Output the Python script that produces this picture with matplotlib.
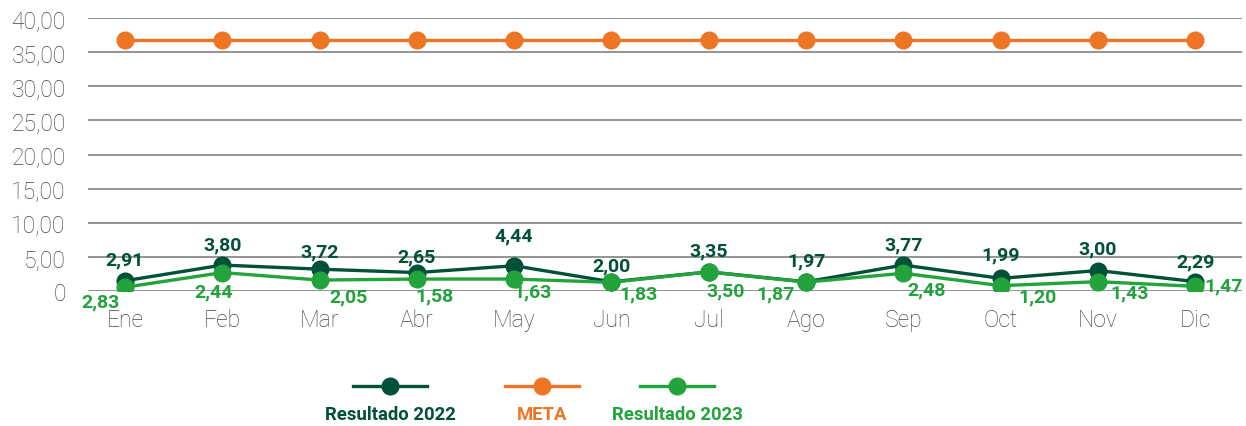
import matplotlib.pyplot as plt
from matplotlib.lines import Line2D

plt.rcParams['font.family'] = ['Roboto', 'DejaVu Sans']

months = ['Ene', 'Feb', 'Mar', 'Abr', 'May', 'Jun', 'Jul', 'Ago', 'Sep', 'Oct', 'Nov', 'Dic']
res_2022 = [1.5, 3.8, 3.2, 2.7, 3.7, 1.35, 2.8, 1.35, 3.8, 1.85, 3.0, 1.37]
res_2023 = [0.55, 2.7, 1.6, 1.75, 1.75, 1.27, 2.8, 1.3, 2.6, 0.78, 1.37, 0.68]
meta = [36.75] * 12
labels_2022 = ['2,91', '3,80', '3,72', '2,65', '4,44', '2,00', '3,35', '1,97', '3,77', '1,99', '3,00', '2,29']
labels_2023 = ['2,83', '2,44', '2,05', '1,58', '1,63', '1,83', '3,50', '1,87', '2,48', '1,20', '1,43', '1,47']
yticks = [0, 5, 10, 15, 20, 25, 30, 35, 40]
ytick_labels = ['0', '5,00', '10,00', '15,00', '20,00', '25,00', '30,00', '35,00', '40,00']

# label offsets in pixels (dx, dy), screen direction down = negative
off_2022 = [(0, 21), (0, 21), (0, 18), (0, 16), (0, 30), (0, 16), (0, 21), (0, 21), (0, 21), (0, 24), (0, 22), (0, 20)]
off_2023 = [(-24, -14), (-9, -19), (29, -16), (18, -16), (18, -12), (27, -11),
            (17, -19), (-31, -11), (23, -16), (37, -11), (32, -11), (28, 1)]

c_dark = '#00503A'
c_orange = '#EE7524'
c_green = '#22A33B'

fig = plt.figure(figsize=(12.46, 4.27), dpi=100)
ax = fig.add_axes([88 / 1246, 1 - 292 / 427, (1242 - 88) / 1246, (292 - 19) / 427])

x = list(range(len(months)))
ax.plot(x, meta, color=c_orange, lw=2.4, marker='o', ms=12, zorder=3)
ax.plot(x, res_2022, color=c_dark, lw=2.4, marker='o', ms=12, zorder=4)
ax.plot(x, res_2023, color=c_green, lw=2.4, marker='o', ms=12, zorder=5)

px = 72 / 100
for i in x:
    dx, dy = off_2022[i]
    ax.annotate(labels_2022[i], (i, res_2022[i]), xytext=(dx * px, dy * px), textcoords='offset points',
                ha='center', va='center', fontsize=14, fontweight='bold', color=c_dark, zorder=6)
    dx, dy = off_2023[i]
    ax.annotate(labels_2023[i], (i, res_2023[i]), xytext=(dx * px, dy * px), textcoords='offset points',
                ha='center', va='center', fontsize=14, fontweight='bold', color=c_green, zorder=6)

ax.set_xlim(-0.38, 11.48)
ax.set_ylim(0, 40)
ax.set_yticks(yticks)
ax.set_yticklabels(ytick_labels)
ax.set_xticks(x)
ax.set_xticklabels(months)
ax.grid(axis='y', color='#8a8a8a', lw=1.3)
ax.set_axisbelow(True)
for s in ax.spines.values():
    s.set_visible(False)
ax.tick_params(axis='y', length=0, pad=16, labelsize=16.5, labelcolor='#474747')
ax.tick_params(axis='x', length=0, pad=12, labelsize=16.5, labelcolor='#474747')
for t in ax.get_xticklabels() + ax.get_yticklabels():
    t.set_fontweight('light')

# legend below the chart
legend_items = [('Resultado 2022', c_dark, 390), ('META', c_orange, 542), ('Resultado 2023', c_green, 677)]
for name, col, cx in legend_items:
    fx = cx / 1246
    fig.add_artist(Line2D([fx - 37 / 1246, fx + 37 / 1246], [1 - 387 / 427] * 2, color=col, lw=2.4,
                          transform=fig.transFigure))
    fig.add_artist(Line2D([fx], [1 - 387 / 427], color=col, marker='o', ms=12, transform=fig.transFigure))
    fig.text(fx, 1 - 415 / 427, name, ha='center', va='center', fontsize=13.3, fontweight='bold', color=col)

fig.savefig('out.png', dpi=100)
